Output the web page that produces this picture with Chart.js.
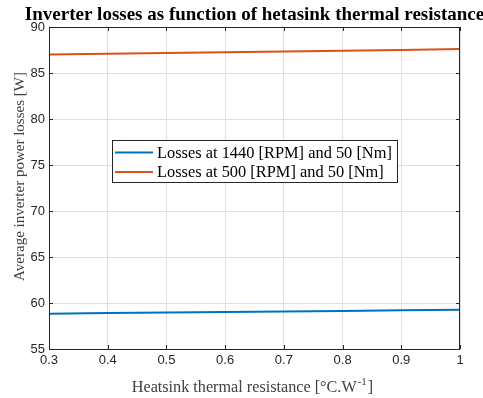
<!DOCTYPE html>
<html>
<head>
<meta charset="utf-8">
<script src="https://cdn.jsdelivr.net/npm/chart.js@4.4.1/dist/chart.umd.min.js"></script>
<style>
  html, body { margin: 0; padding: 0; background: #fff; }
  #wrap { position: relative; width: 483px; height: 398px; }
</style>
</head>
<body>
<div id="wrap"><canvas id="chart" width="483" height="398"></canvas></div>
<script>
// ---- data ----
const resistance = [0.3, 0.4, 0.5, 0.6, 0.7, 0.8, 0.9, 1.0];
const losses1440 = [58.84, 58.9, 58.96, 59.02, 59.08, 59.14, 59.2, 59.27];
const losses500  = [87.02, 87.1, 87.18, 87.25, 87.33, 87.41, 87.5, 87.6];
const seriesLabels = ['Losses at 1440 [RPM] and 50 [Nm]', 'Losses at 500 [RPM] and 50 [Nm]'];
const titleText = 'Inverter losses as function of hetasink thermal resistance';
const xTitleParts = ['Heatsink thermal resistance [°C.W', '-1', ']'];
const yTitle = 'Average inverter power losses [W]';

const C = {
  blue:  '#0072bd',
  orange:'#d95319',
  ink:   '#262626',
  label: '#404040',
  grid:  '#dedede',
};
const SERIF = "'Liberation Serif', 'Times New Roman', serif";
const SANS  = "'Liberation Sans', Arial, sans-serif";

// title centred over the plot area, axis titles, inward ticks, box, legend inside the axes
const matlabLook = {
  id: 'matlabLook',
  afterDraw(chart){
    const ctx = chart.ctx, a = chart.chartArea;
    const xs = chart.scales.x, ys = chart.scales.y;
    ctx.save();
    // box
    ctx.strokeStyle = C.ink; ctx.lineWidth = 1;
    ctx.strokeRect(Math.round(a.left)+0.5, Math.round(a.top)+0.5,
                   Math.round(a.right-a.left)-1, Math.round(a.bottom-a.top));
    // inward ticks
    ctx.beginPath();
    xs.ticks.forEach(t => {
      const x = Math.round(xs.getPixelForValue(t.value)) + 0.5;
      ctx.moveTo(x, a.bottom); ctx.lineTo(x, a.bottom - 4);
      ctx.moveTo(x, a.top);    ctx.lineTo(x, a.top + 4);
    });
    ys.ticks.forEach(t => {
      const y = Math.round(ys.getPixelForValue(t.value)) + 0.5;
      ctx.moveTo(a.left, y);  ctx.lineTo(a.left + 4, y);
      ctx.moveTo(a.right, y); ctx.lineTo(a.right - 4, y);
    });
    ctx.stroke();

    // title
    ctx.fillStyle = '#000';
    ctx.font = `bold 19px ${SERIF}`;
    ctx.textAlign = 'center'; ctx.textBaseline = 'alphabetic';
    ctx.fillText(titleText, (a.left + a.right)/2, 20);

    // x axis title with superscript
    ctx.fillStyle = C.label;
    ctx.textAlign = 'left';
    const mainFont = `16.2px ${SERIF}`, supFont = `11px ${SERIF}`;
    ctx.font = mainFont; const w0 = ctx.measureText(xTitleParts[0]).width;
    ctx.font = supFont;  const w1 = ctx.measureText(xTitleParts[1]).width;
    ctx.font = mainFont; const w2 = ctx.measureText(xTitleParts[2]).width;
    let x0 = 252.5 - (w0 + w1 + w2 + 2)/2;
    const base = 392;
    ctx.font = mainFont; ctx.fillText(xTitleParts[0], x0, base);
    ctx.font = supFont;  ctx.fillText(xTitleParts[1], x0 + w0 + 1, base - 7);
    ctx.font = mainFont; ctx.fillText(xTitleParts[2], x0 + w0 + w1 + 2, base);

    // y axis title
    ctx.save();
    ctx.translate(24, 176.5);
    ctx.rotate(-Math.PI/2);
    ctx.font = `15px ${SERIF}`;
    ctx.textAlign = 'center'; ctx.textBaseline = 'alphabetic';
    ctx.fillText(yTitle, 0, 0);
    ctx.restore();

    // legend
    const lx = 112, ly = 140, lw = 285, lh = 42;
    ctx.fillStyle = '#fff';
    ctx.fillRect(lx, ly, lw, lh);
    ctx.strokeStyle = C.ink; ctx.lineWidth = 1;
    ctx.strokeRect(lx + 0.5, ly + 0.5, lw, lh);
    ctx.font = `16.4px ${SERIF}`;
    ctx.textAlign = 'left'; ctx.textBaseline = 'middle';
    chart.data.datasets.forEach((ds, i) => {
      const y = ly + 12.5 + i*19.5;
      ctx.strokeStyle = ds.borderColor; ctx.lineWidth = 2;
      ctx.beginPath(); ctx.moveTo(lx + 3, y); ctx.lineTo(lx + 41, y); ctx.stroke();
      ctx.fillStyle = '#000';
      ctx.fillText(ds.label, lx + 45, y + 1);
    });
    ctx.restore();
  }
};

new Chart(document.getElementById('chart'), {
  type: 'line',
  data: {
    datasets: [
      { label: seriesLabels[0], data: resistance.map((x, i) => ({x, y: losses1440[i]})),
        borderColor: C.blue, borderWidth: 2, pointRadius: 0, tension: 0 },
      { label: seriesLabels[1], data: resistance.map((x, i) => ({x, y: losses500[i]})),
        borderColor: C.orange, borderWidth: 2, pointRadius: 0, tension: 0 },
    ]
  },
  options: {
    responsive: false,
    animation: false,
    devicePixelRatio: 1,
    layout: { padding: { top: 27, right: 23, left: 0, bottom: 0 } },
    plugins: { legend: { display: false }, title: { display: false }, tooltip: { enabled: false } },
    scales: {
      x: {
        type: 'linear', min: 0.3, max: 1,
        afterFit: s => { s.height = 49; },
        ticks: { stepSize: 0.1, callback: v => String(+v.toFixed(1)), color: C.ink,
                 font: { family: SANS, size: 13 }, padding: 4, maxRotation: 0 },
        grid: { color: C.grid, drawTicks: false },
        border: { display: false },
      },
      y: {
        min: 55, max: 90,
        afterFit: s => { s.width = 49; },
        ticks: { stepSize: 5, color: C.ink, font: { family: SANS, size: 13 }, padding: 4 },
        grid: { color: C.grid, drawTicks: false },
        border: { display: false },
      },
    },
  },
  plugins: [matlabLook],
});
</script>
</body>
</html>
